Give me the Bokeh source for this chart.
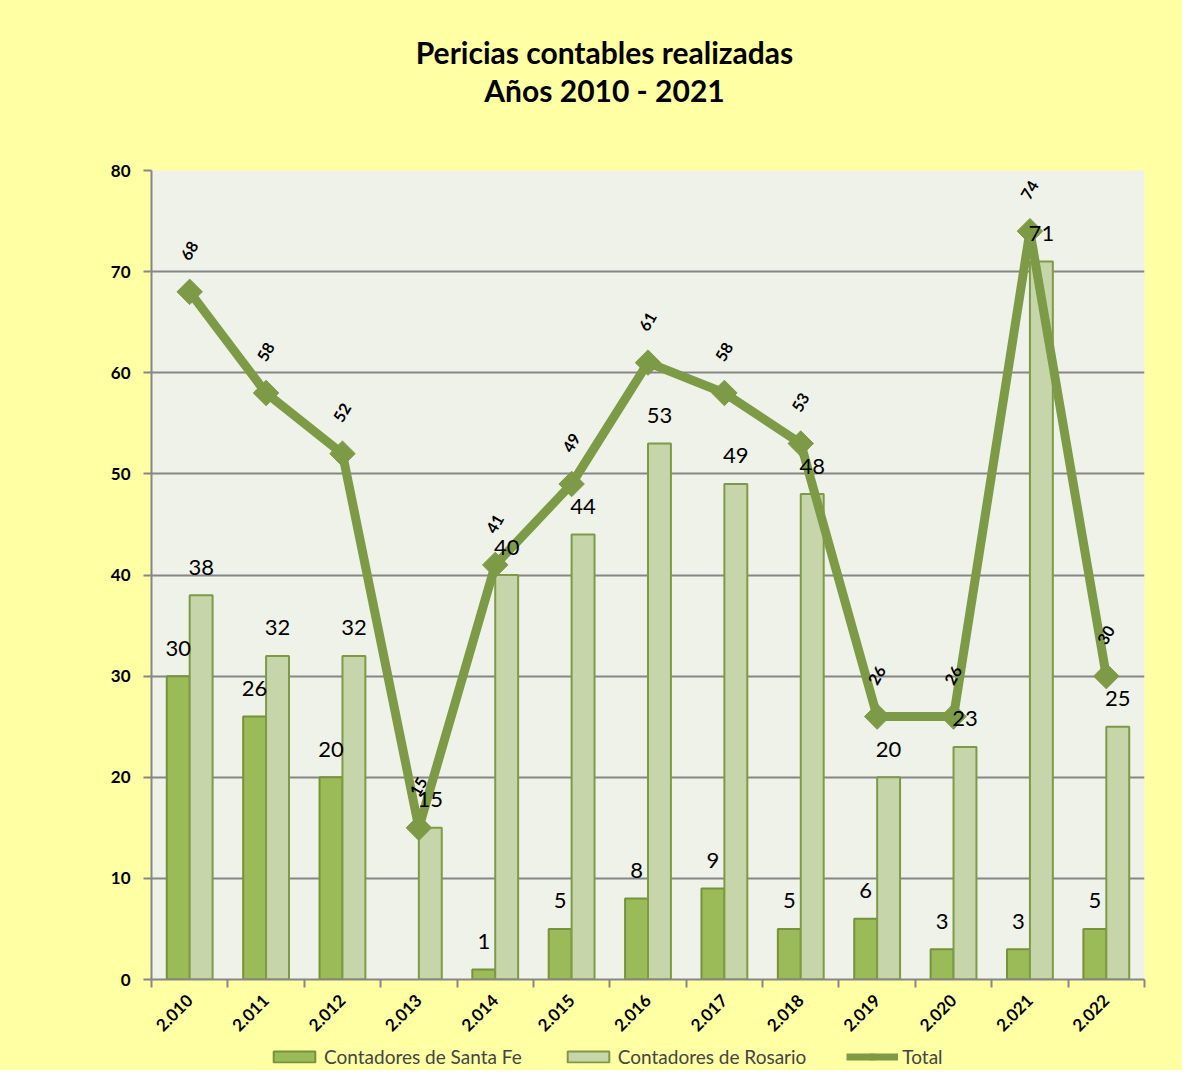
import math
from bokeh.plotting import figure
from bokeh.layouts import column
from bokeh.models import (ColumnDataSource, FixedTicker, Legend, LegendItem, Label,
                          Range1d)
from bokeh.transform import dodge
from bokeh.core.properties import value
from bokeh.embed import file_html
from bokeh.resources import INLINE

# ---- data ----
years = ["2.010", "2.011", "2.012", "2.013", "2.014", "2.015", "2.016",
         "2.017", "2.018", "2.019", "2.020", "2.021", "2.022"]
santa_fe = [30, 26, 20, None, 1, 5, 8, 9, 5, 6, 3, 3, 5]
rosario = [38, 32, 32, 15, 40, 44, 53, 49, 48, 20, 23, 71, 25]
total = [68, 58, 52, 15, 41, 49, 61, 58, 53, 26, 26, 74, 30]
y_ticks = [0, 10, 20, 30, 40, 50, 60, 70, 80]
title_1 = "Pericias contables realizadas"
title_2 = "Años 2010 - 2021"
legend_labels = ["Contadores de Santa Fe", "Contadores de Rosario", "Total"]

FONT = "Lato"
C_SF = "#9BBB59"
C_SF_LINE = "#76923C"
C_RO = "#C6D6AA"
C_RO_LINE = "#7E9A47"
C_TOT = "#7D9B46"
C_GRID = "#868686"
C_YELLOW = "#FFFFA3"
C_FRAME = "#EFF2E8"

W = 1182
BL, BR = 151, 38          # side borders of the chart (frames are aligned in the column)
H_TITLE, H_MAIN, H_LEG = 158, 884, 28

idx = list(range(len(years)))
sf_src = ColumnDataSource(dict(
    x=[i for i, v in zip(idx, santa_fe) if v is not None],
    v=[v for v in santa_fe if v is not None],
    t=[str(v) for v in santa_fe if v is not None],
))
ro_src = ColumnDataSource(dict(x=idx, v=rosario, t=[str(v) for v in rosario]))
tot_src = ColumnDataSource(dict(x=idx, v=total, t=[str(v) for v in total]))


def strip(height):
    f = figure(width=W, height=height, x_range=Range1d(BL, W - BR),
               y_range=Range1d(0, height),
               x_axis_type=None, y_axis_type=None, output_backend="svg",
               toolbar_location=None, min_border_left=BL, min_border_right=BR,
               min_border_top=0, min_border_bottom=0)
    f.border_fill_color = C_YELLOW
    f.background_fill_color = C_YELLOW
    f.outline_line_color = None
    return f


# ---- title strip (x in canvas pixels) ----
pt = strip(H_TITLE)
for txt, yy in ((title_1, H_TITLE - 51), (title_2, H_TITLE - 89)):
    pt.add_layout(Label(x=604, y=yy, text=txt, text_font=FONT, text_font_size="30px",
                        text_font_style="bold", text_color="black",
                        text_align="center", text_baseline="middle"))

# ---- main chart ----
p = figure(width=W, height=H_MAIN,
           x_range=Range1d(-0.5, len(years) - 0.5), y_range=Range1d(0, 80),
           output_backend="svg", toolbar_location=None,
           min_border_left=BL, min_border_right=BR,
           min_border_top=12, min_border_bottom=63)
p.border_fill_color = C_YELLOW
p.background_fill_color = C_FRAME
p.outline_line_color = None


def draw_series(f, lw=9, ms=18):
    sf = f.vbar(x=dodge("x", -0.15), top="v", width=0.3, source=sf_src,
                fill_color=C_SF, line_color=C_SF_LINE, line_width=2)
    ro = f.vbar(x=dodge("x", 0.15), top="v", width=0.3, source=ro_src,
                fill_color=C_RO, line_color=C_RO_LINE, line_width=2)
    ln = f.line(x="x", y="v", source=tot_src, line_color=C_TOT, line_width=lw,
                line_join="round")
    mk = f.scatter(x="x", y="v", source=tot_src, marker="square", angle=math.pi / 4,
                   size=ms, fill_color=C_TOT, line_color=C_TOT)
    return sf, ro, ln, mk


draw_series(p)

for src, dx in ((sf_src, -0.15), (ro_src, 0.15)):
    p.text(x=dodge("x", dx), y="v", text="t", source=src,
           text_font=value(FONT), text_font_size="22px", text_color="black",
           text_align="center", text_baseline="alphabetic", y_offset=-28)
p.text(x="x", y="v", text="t", source=tot_src, angle=math.pi / 3,
       text_font=value(FONT), text_font_size="16px", text_font_style="bold",
       text_color="black", text_align="center", text_baseline="middle",
       y_offset=-41)

p.xaxis.ticker = FixedTicker(ticks=idx, minor_ticks=[i - 0.5 for i in range(len(years) + 1)])
p.xaxis.major_label_overrides = {i: y for i, y in enumerate(years)}
p.xaxis.major_tick_line_color = None
p.xaxis.minor_tick_line_color = C_GRID
p.xaxis.minor_tick_line_width = 2
p.xaxis.minor_tick_in = 0
p.xaxis.minor_tick_out = 8
p.xaxis.major_label_orientation = math.pi / 4
p.xaxis.major_label_standoff = 10

p.yaxis.ticker = FixedTicker(ticks=y_ticks)
p.yaxis.minor_tick_line_color = None
p.yaxis.major_tick_line_color = C_GRID
p.yaxis.major_tick_line_width = 2
p.yaxis.major_tick_in = 0
p.yaxis.major_tick_out = 8
p.yaxis.major_label_standoff = 13

for ax in (p.xaxis, p.yaxis):
    ax.axis_line_color = C_GRID
    ax.axis_line_width = 2
    ax.major_label_text_font = FONT
    ax.major_label_text_font_size = "17px"
    ax.major_label_text_font_style = "bold"
    ax.major_label_text_color = "black"

p.xgrid.grid_line_color = None
p.ygrid.ticker = FixedTicker(ticks=y_ticks)
p.ygrid.grid_line_color = C_GRID
p.ygrid.grid_line_width = 2

# ---- legend strip: same series as hidden renderers, shown only as swatches ----
pl = strip(H_LEG)
lg = draw_series(pl, lw=7, ms=13)
for r in lg:
    r.visible = False
legend = Legend(items=[
    LegendItem(label=legend_labels[0], renderers=[lg[0]]),
    LegendItem(label=legend_labels[1], renderers=[lg[1]]),
    LegendItem(label=legend_labels[2], renderers=[lg[2], lg[3]]),
], orientation="horizontal", location="left", margin=117,
    background_fill_alpha=0, border_line_color=None,
    inactive_fill_alpha=0,
    label_text_font=FONT, label_text_font_size="19px",
    glyph_width=52, glyph_height=14, spacing=40, label_standoff=4, padding=0)
pl.add_layout(legend, "center")

layout = column(pt, p, pl, spacing=0, styles={"background-color": C_YELLOW})
open("out.html", "w").write(file_html(layout, INLINE))
